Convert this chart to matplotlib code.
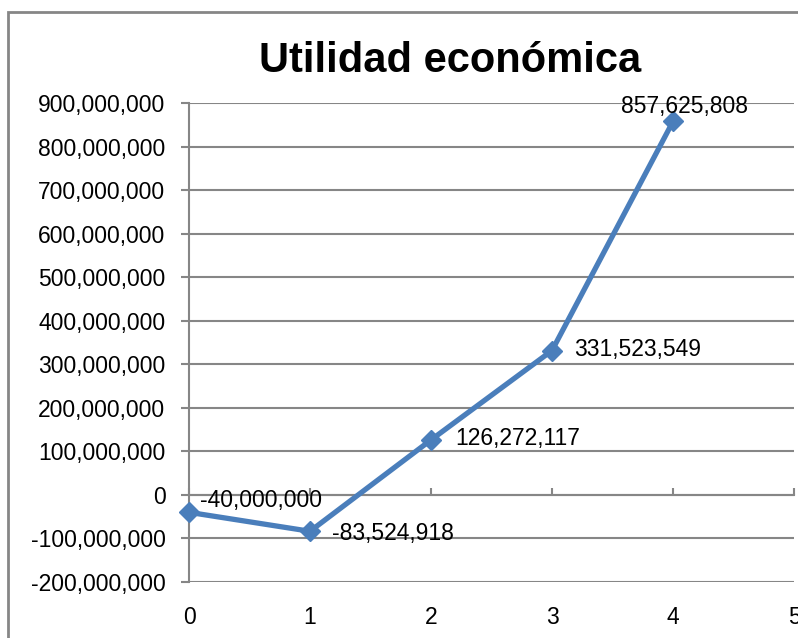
import matplotlib.pyplot as plt
from matplotlib.ticker import FuncFormatter, MultipleLocator
from matplotlib.patches import Rectangle

plt.rcParams['font.family'] = ['Liberation Sans', 'DejaVu Sans']

periods = [0, 1, 2, 3, 4]
utilidad = [-40000000, -83524918, 126272117, 331523549, 857625808]
labels = ['-40,000,000', '-83,524,918', '126,272,117', '331,523,549', '857,625,808']

fig = plt.figure(figsize=(7.98, 6.38), dpi=100)
ax = fig.add_axes([189 / 798, 1 - 582 / 638, (794 - 189) / 798, (582 - 103) / 638])

grid_c = '#868686'
ax.set_xlim(0, 5)
ax.set_ylim(-200000000, 900000000)
ax.yaxis.set_major_locator(MultipleLocator(100000000))
ax.yaxis.grid(True, color=grid_c, linewidth=1.5)
ax.set_axisbelow(True)

for s in ['top', 'right']:
    ax.spines[s].set_visible(False)
ax.spines['left'].set_color(grid_c)
ax.spines['left'].set_linewidth(1.5)
ax.spines['bottom'].set_position(('data', 0))
ax.spines['bottom'].set_color(grid_c)
ax.spines['bottom'].set_linewidth(1.5)

ax.yaxis.set_major_formatter(FuncFormatter(lambda v, p: f'{int(round(v)):,}'))
ax.tick_params(axis='y', direction='out', length=6, width=1.5, color=grid_c,
               labelsize=16.5, pad=11)
ax.set_xticks(range(6))
ax.tick_params(axis='x', direction='in', length=5, width=1.5, color=grid_c,
               labelbottom=False)

# category labels sit at the bottom of the plot area, not on the zero line
sec = ax.secondary_xaxis(-0.01)
sec.set_xticks(range(6))
sec.spines['bottom'].set_visible(False)
sec.tick_params(length=0, labelsize=16.5, pad=14)

ax.plot(periods, utilidad, color='#4A7EBB', linewidth=3.8, marker='D',
        markersize=10, clip_on=False, zorder=3)

offsets = [(11, 12), (22, -2), (24, 1), (22, 1), (-52, 15)]
for x, y, t, (dx, dy) in zip(periods, utilidad, labels, offsets):
    ax.annotate(t, (x, y), xytext=(dx * 0.72, dy * 0.72), textcoords='offset points',
                ha='left', va='center', fontsize=16.5, zorder=4)

fig.text(450 / 798, 1 - 61 / 638, 'Utilidad económica', ha='center', va='center',
         fontsize=30, fontweight='bold')

fig.patches.append(Rectangle((8 / 798, -0.02), 1.05, 1 - 12 / 638 + 0.02,
                             transform=fig.transFigure, fill=False,
                             edgecolor=grid_c, linewidth=2))

fig.savefig('out.png', dpi=100)
